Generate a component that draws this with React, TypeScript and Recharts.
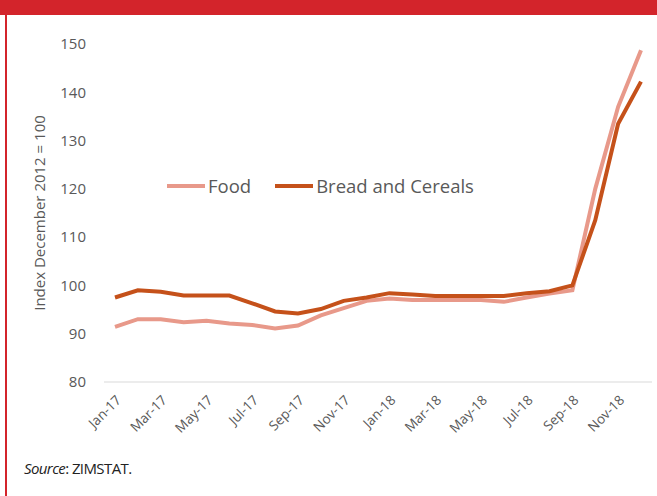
import React from "react"
import { LineChart, Line, XAxis, YAxis } from "recharts"

const months = [
  "Jan-17", "Feb-17", "Mar-17", "Apr-17", "May-17", "Jun-17", "Jul-17", "Aug-17", "Sep-17", "Oct-17", "Nov-17", "Dec-17",
  "Jan-18", "Feb-18", "Mar-18", "Apr-18", "May-18", "Jun-18", "Jul-18", "Aug-18", "Sep-18", "Oct-18", "Nov-18", "Dec-18",
]
const food = [91.4, 93.0, 93.0, 92.4, 92.7, 92.1, 91.8, 91.1, 91.7, 93.8, 95.3, 96.8, 97.3, 97.0, 97.0, 97.0, 97.0, 96.6, 97.5, 98.3, 99.0, 120.0, 137.0, 148.7]
const bread = [97.5, 99.0, 98.7, 97.9, 97.9, 97.9, 96.3, 94.6, 94.2, 95.1, 96.8, 97.5, 98.4, 98.1, 97.8, 97.8, 97.8, 97.8, 98.4, 98.8, 100.0, 113.5, 133.5, 142.2]
const yTicks = [80, 90, 100, 110, 120, 130, 140, 150]

const data = months.map((m, i) => ({ month: m, food: food[i], bread: bread[i] }))

const RED = "#d3242b"
const FOOD = "#e8998a"
const BREAD = "#c5511a"
const TEXT = "#595959"
const FONT = "'Open Sans', sans-serif"

function MonthTick(props: any) {
  const { x, y, payload } = props
  const tx = x + 7
  const ty = y + 11
  return (
    <text
      x={tx}
      y={ty}
      transform={`rotate(-45 ${tx} ${ty})`}
      textAnchor="end"
      fontSize={13.5}
      fill={TEXT}
      fontFamily={FONT}
    >
      {payload.value}
    </text>
  )
}

function LegendBox() {
  const items = [
    { label: "Food", color: FOOD },
    { label: "Bread and Cereals", color: BREAD },
  ]
  return (
    <div
      style={{
        position: "absolute", left: 167, top: 173, display: "flex", alignItems: "center",
        fontFamily: FONT, fontSize: 18.5, color: TEXT, whiteSpace: "nowrap",
      }}
    >
      {items.map((it) => (
        <div key={it.label} style={{ display: "flex", alignItems: "center", marginRight: 24 }}>
          <span style={{ display: "inline-block", width: 38, height: 4, background: it.color, marginRight: 3 }} />
          <span>{it.label}</span>
        </div>
      ))}
    </div>
  )
}

export default function App() {
  return (
    <div style={{ position: "absolute", left: 0, top: 0, width: 657, height: 496, background: "#fff", overflow: "hidden" }}>
      <div style={{ position: "absolute", left: 0, top: 0, width: 657, height: 15, background: RED }} />
      <div style={{ position: "absolute", left: 5, top: 15, width: 2, height: 481, background: RED }} />
      <LineChart
        width={657}
        height={496}
        data={data}
        margin={{ top: 44, right: 5, bottom: 54, left: 30 }}
        style={{ position: "absolute", left: 0, top: 0 }}
      >
        <XAxis
          dataKey="month"
          interval={1}
          tick={<MonthTick />}
          tickLine={false}
          axisLine={{ stroke: "#d9d9d9" }}
          padding={{ left: 11, right: 11 }}
          height={60}
        />
        <YAxis
          domain={[80, 150]}
          ticks={yTicks}
          axisLine={false}
          tickLine={false}
          tickMargin={12}
          width={74}
          tick={{ fontSize: 15, fill: TEXT, fontFamily: FONT }}
          label={{
            value: "Index December  2012 = 100",
            angle: -90,
            position: "insideLeft",
            offset: 10,
            style: { fontSize: 15, fill: TEXT, fontFamily: FONT, textAnchor: "middle" },
          }}
        />
        <Line dataKey="food" stroke={FOOD} strokeWidth={4} dot={false} isAnimationActive={false} />
        <Line dataKey="bread" stroke={BREAD} strokeWidth={4} dot={false} isAnimationActive={false} />
      </LineChart>
      <LegendBox />
      <div style={{ position: "absolute", left: 24, top: 458, fontFamily: FONT, fontSize: 15, color: "#222", letterSpacing: -0.6 }}>
        <i>Source</i>: ZIMSTAT.
      </div>
    </div>
  )
}
